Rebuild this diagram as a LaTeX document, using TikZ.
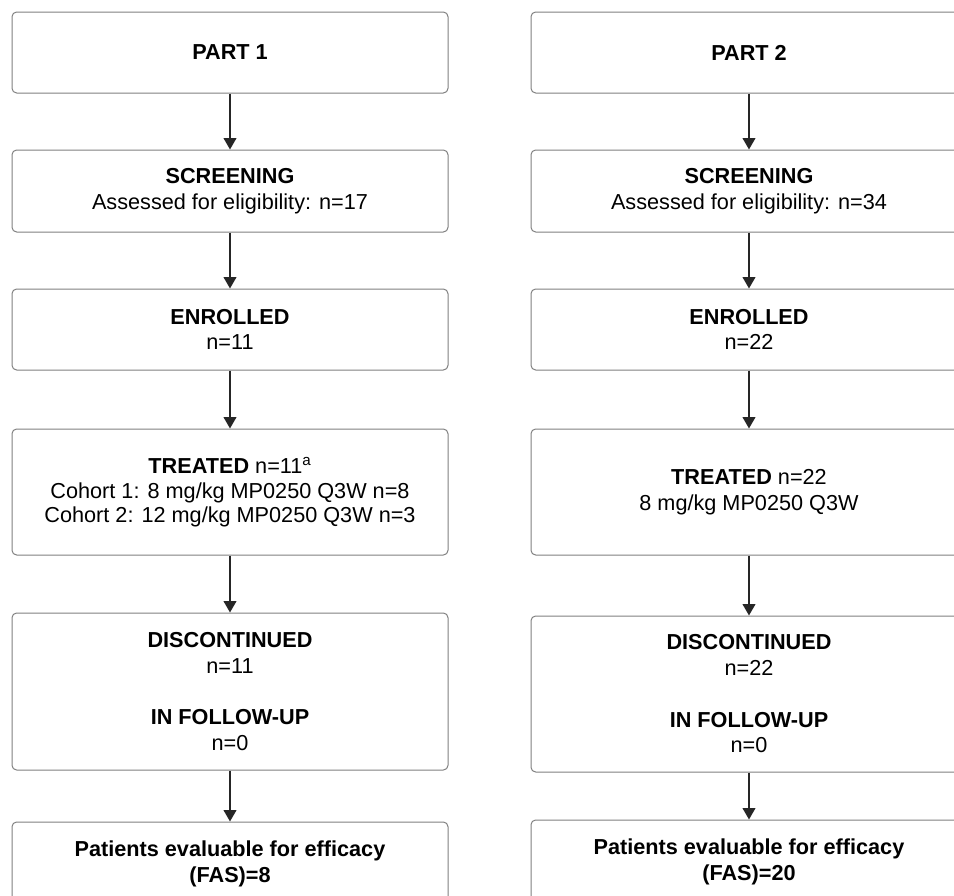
\documentclass[tikz,border=0pt]{standalone}
\usepackage{fontspec}
\setmainfont{Liberation Sans}
\usetikzlibrary{arrows.meta}
\begin{document}
\begin{tikzpicture}[x=0.75pt, y=0.75pt]
\tikzstyle{every node}+=[inner sep=0pt, align=center, font=\fontsize{16.25}{19.25}\selectfont]
\tikzstyle{box}=[draw=black!50, line width=0.75pt, rounded corners=3.5pt, minimum width=327pt]
\tikzstyle{flow}=[-{Triangle[length=8.5pt,width=9.5pt]}, line width=1.1pt, black!85]
\clip (0,0) rectangle (954,-896);
% part 1
\node [box, minimum height=60.75pt] (pone) at (230,-52.5) {\textbf{PART 1}};
\node [box, minimum height=61.5pt] (sone) at (230,-191) {\textbf{SCREENING}\\ Assessed for eligibility: n=17};
\node [box, minimum height=60.75pt] (eone) at (230,-329.5) {\textbf{ENROLLED}\\ n=11};
\node [box, minimum height=94.5pt] (tone) at (230,-492) {\textbf{TREATED} n=11\textsuperscript{a}\\[-1pt] Cohort 1: 8 mg/kg MP0250 Q3W n=8\\[-1pt] Cohort 2: 12 mg/kg MP0250 Q3W n=3};
\node [box, minimum height=117.75pt] (done) at (230,-691.5) {\textbf{DISCONTINUED}\\ n=11\\[19.5pt] \textbf{IN FOLLOW-UP}\\ n=0};
\node [box, minimum height=63pt] (fone) at (230,-864) {\textbf{Patients evaluable for efficacy}\\ \textbf{(FAS)=8}};
% part 2
\node [box, minimum height=60.75pt] (ptwo) at (749,-52.5) {\textbf{PART 2}};
\node [box, minimum height=61.5pt] (stwo) at (749,-191) {\textbf{SCREENING}\\ Assessed for eligibility: n=34};
\node [box, minimum height=60.75pt] (etwo) at (749,-329.5) {\textbf{ENROLLED}\\ n=22};
\node [box, minimum height=94.5pt] (ttwo) at (749,-492) {\textbf{TREATED} n=22\\ 8 mg/kg MP0250 Q3W};
\node [box, minimum height=117pt] (dtwo) at (749,-694) {\textbf{DISCONTINUED}\\ n=22\\[19.5pt] \textbf{IN FOLLOW-UP}\\ n=0};
\node [box, minimum height=63pt] (ftwo) at (749,-862) {\textbf{Patients evaluable for efficacy}\\ \textbf{(FAS)=20}};
% arrows
\draw [flow] (pone) -- (sone);
\draw [flow] (sone) -- (eone);
\draw [flow] (eone) -- (tone);
\draw [flow] (tone) -- (done);
\draw [flow] (done) -- (fone);
\draw [flow] (ptwo) -- (stwo);
\draw [flow] (stwo) -- (etwo);
\draw [flow] (etwo) -- (ttwo);
\draw [flow] (ttwo) -- (dtwo);
\draw [flow] (dtwo) -- (ftwo);
\end{tikzpicture}
\end{document}
